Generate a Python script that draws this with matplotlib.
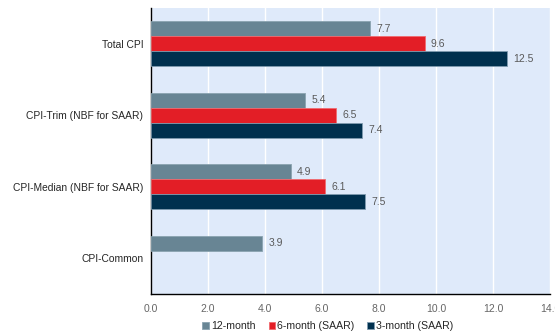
import matplotlib
matplotlib.use("Agg")
import matplotlib.pyplot as plt
import numpy as np

plt.rcParams["font.family"] = ["Liberation Sans", "DejaVu Sans"]

categories = ["Total CPI", "CPI-Trim (NBF for SAAR)", "CPI-Median (NBF for SAAR)", "CPI-Common"]
m12 = [7.7, 5.4, 4.9, 3.9]
m6 = [9.6, 6.5, 6.1, np.nan]
m3 = [12.5, 7.4, 7.5, np.nan]
series_names = ["12-month", "6-month (SAAR)", "3-month (SAAR)"]
colors = ["#688594", "#e31e26", "#00304e"]
edges = ["#8aa3b0", "#f06a6f", "#7f9bb0"]

fig = plt.figure(figsize=(5.55, 3.33), dpi=100)
ax = fig.add_axes([151 / 555, 1 - 294 / 333, 399 / 555, 286 / 333])
ax.set_facecolor("#dfeafa")

y = np.arange(len(categories))
h = 0.21
for i, (vals, name) in enumerate(zip([m12, m6, m3], series_names)):
    pos = y + (i - 1) * h
    ax.barh(pos, vals, height=h, color=colors[i], edgecolor=edges[i],
            linewidth=0.6, label=name, zorder=3)
    for p, v in zip(pos, vals):
        if not np.isnan(v):
            ax.text(v + 0.22, p, f"{v:.1f}", va="center", ha="left",
                    fontsize=7.5, color="#595959", zorder=4)

ax.set_ylim(len(categories) - 0.5, -0.5)
ax.set_xlim(0, 14)
ax.set_xticks(np.arange(0, 14.1, 2))
ax.set_xticklabels([f"{t:.1f}" for t in np.arange(0, 14.1, 2)])
ax.set_yticks(y)
ax.set_yticklabels(categories)
ax.tick_params(axis="x", length=0, labelsize=7.5, labelcolor="#666666", pad=7)
ax.tick_params(axis="y", length=0, labelsize=7.4, labelcolor="#262626", pad=5.5)
ax.grid(axis="x", color="white", linewidth=1.0, zorder=1)
for s in ["top", "right"]:
    ax.spines[s].set_visible(False)
ax.spines["left"].set_color("black")
ax.spines["bottom"].set_color("black")
ax.spines["left"].set_linewidth(1.0)
ax.spines["bottom"].set_linewidth(1.0)

handles, labels = ax.get_legend_handles_labels()
fig.legend(handles, labels, loc="center", bbox_to_anchor=(328 / 555, 1 - 326 / 333),
           ncol=3, frameon=False, fontsize=7.6, handlelength=0.6, handleheight=0.6,
           handletextpad=0.25, columnspacing=1.2, labelcolor="#262626")

fig.savefig("out.png", dpi=100)
